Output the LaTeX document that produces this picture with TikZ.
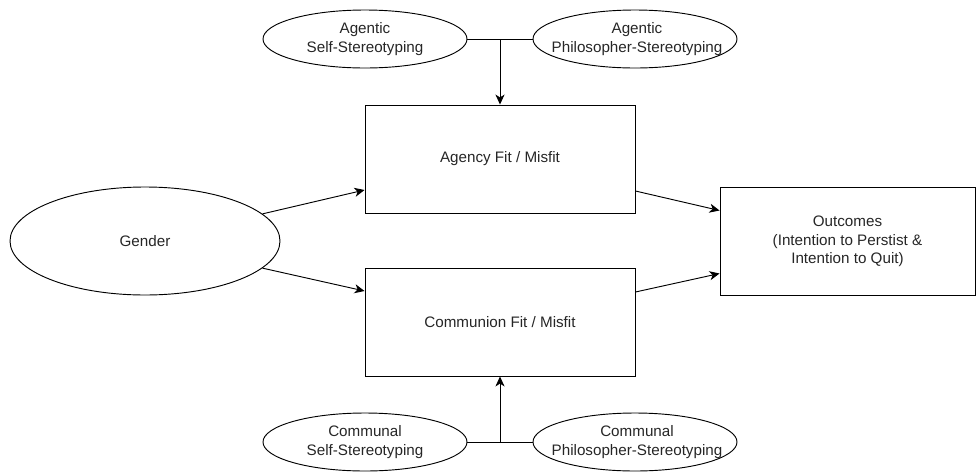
\documentclass[tikz,border=0pt]{standalone}
\usepackage{fontspec}
\setmainfont{Liberation Sans}
\usetikzlibrary{shapes.geometric,arrows.meta}
\begin{document}
\begin{tikzpicture}[x=0.75pt,y=-0.75pt,
  font=\fontsize{11.4}{13.8}\selectfont,
  every path/.style={line width=0.7pt},
  oval/.style={draw,ellipse,inner sep=0pt},
  smalloval/.style={oval,minimum width=153pt,minimum height=43.5pt},
  bigoval/.style={oval,minimum width=202.5pt,minimum height=81pt},
  box/.style={draw,rectangle,inner sep=0pt,align=center,minimum width=202.5pt,minimum height=81pt},
  txt/.style={align=center,inner sep=0pt,text=black!85},
  arr/.style={-{Stealth[length=7.5pt,width=6.8pt,inset=2.2pt]}}]
\useasboundingbox (0,0) rectangle (976,472);
% top ellipses
\node[smalloval] (as) at (365,39) {};
\node[txt] (astxt) at (as) {Agentic\\Self-Stereotyping};
\node[smalloval] (ap) at (635,39) {};
\node[txt] (aptxt) at ([xshift=1.5pt]ap) {Agentic\\Philosopher-Stereotyping};
% boxes
\node[box] (agency) at (500,159) {};
\node[txt] (agtxt) at (agency) {Agency Fit / Misfit};
\node[box] (communion) at (500,322) {};
\node[txt] (cmtxt) at (communion) {Communion Fit / Misfit};
\node[box,minimum width=191.25pt] (out) at (847.5,241.5) {};
\node[txt] (outtxt) at (out) {Outcomes\\(Intention to Perstist \&\\Intention to Quit)};
% gender
\node[bigoval] (gender) at (145,241) {};
\node[txt] (gtxt) at (gender) {Gender};
% bottom ellipses
\node[smalloval] (cs) at (365,442) {};
\node[txt] (cstxt) at (cs) {Communal\\Self-Stereotyping};
\node[smalloval] (cp) at (635,442) {};
\node[txt] (cptxt) at ([xshift=1.5pt]cp) {Communal\\Philosopher-Stereotyping};
% connectors
\draw (as.east) -- (ap.west);
\draw[arr] (as.east -| agency.north) -- (agency.north);
\draw (cs.east) -- (cp.west);
\draw[arr] (cs.east -| communion.south) -- (communion.south);
\draw[arr] (gender.13) -- ([yshift=-23.25pt]agency.west);
\draw[arr] (gender.-13) -- ([yshift=23.25pt]communion.west);
\draw[arr] ([yshift=-24pt]agency.east) -- ([yshift=23.25pt]out.west);
\draw[arr] ([yshift=22.5pt]communion.east) -- ([yshift=-24pt]out.west);
\end{tikzpicture}
\end{document}
